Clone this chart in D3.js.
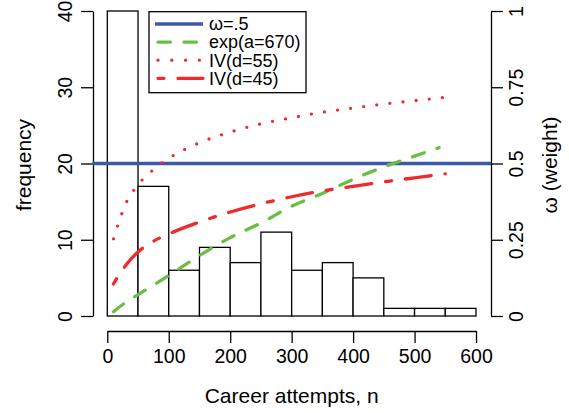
<!DOCTYPE html>
<html>
<head>
<meta charset="utf-8">
<script src="https://cdn.jsdelivr.net/npm/d3@7"></script>
<style>
  body { margin: 0; background: #fff; }
  svg { font-family: "Liberation Sans", Arial, Helvetica, sans-serif; }
  .axis path, .axis line { stroke: #000; stroke-width: 1.3px; }
  .axis text { font-size: 19.5px; fill: #000; }
  .bar { fill: #fff; stroke: #000; stroke-width: 1.3px; }
  .title { font-size: 21px; fill: #000; }
  .legText { font-size: 18px; fill: #000; }
</style>
</head>
<body>
<script>
//histogram of career attempts (bins of 50)
var binStarts = [0, 50, 100, 150, 200, 250, 300, 350, 400, 450, 500, 550];
var binEnds = [50, 100, 150, 200, 250, 300, 350, 400, 450, 500, 550, 600];
var counts = [40, 17, 6, 9, 7, 11, 6, 7, 5, 1, 1, 1];

//weight curves (n, omega)
var expN = [10, 30, 50, 100, 150, 200, 250, 300, 350, 400, 450, 500, 540];
var expW = [0.014, 0.045, 0.070, 0.133, 0.198, 0.257, 0.305, 0.360, 0.402, 0.448, 0.489, 0.524, 0.552];
var iv55N = [10, 20, 30, 50, 75, 100, 150, 200, 250, 300, 350, 400, 450, 500, 550];
var iv55W = [0.253, 0.315, 0.368, 0.430, 0.480, 0.517, 0.568, 0.603, 0.630, 0.650, 0.668, 0.682, 0.695, 0.706, 0.717];
var iv45N = [10, 20, 30, 50, 75, 100, 150, 200, 250, 300, 350, 400, 450, 500, 550];
var iv45W = [0.105, 0.138, 0.166, 0.210, 0.245, 0.269, 0.308, 0.341, 0.368, 0.391, 0.410, 0.425, 0.440, 0.453, 0.466];
var constW = 0.5;

//ticks
var xTicks = [0, 100, 200, 300, 400, 500, 600];
var freqTicks = [0, 10, 20, 30, 40];
var wTicks = [0, 0.25, 0.5, 0.75, 1];
var wTickLabels = ["0", "0.25", "0.5", "0.75", "1"];
var legendLabels = ["\u03c9=.5", "exp(a=670)", "IV(d=55)", "IV(d=45)"];

var width = 569, height = 413;
var blue = "#3c59a7", green = "#6cbd45", red = "#ee2a2b";

var svg = d3.select("body").append("svg")
  .attr("width", width)
  .attr("height", height);

//scales
var x = d3.scaleLinear().domain([0, 600]).range([107.3, 476]);
var yF = d3.scaleLinear().domain([0, 40]).range([316, 11]);
var yW = d3.scaleLinear().domain([0, 1]).range([316, 11]);
var plotLeft = 92.5, plotRight = 491;

//histogram bars
svg.append("g").selectAll(".bar")
  .data(counts)
  .enter()
  .append("rect")
  .attr("class", "bar")
  .attr("x", function(d, i){ return x(binStarts[i]); })
  .attr("width", function(d, i){ return x(binEnds[i]) - x(binStarts[i]); })
  .attr("y", function(d){ return yF(d); })
  .attr("height", function(d){ return yF(0) - yF(d); });

//axes
var xAxis = svg.append("g")
  .attr("class", "axis")
  .attr("transform", "translate(0,331)")
  .call(d3.axisBottom(x).tickValues(xTicks).tickSize(12).tickSizeOuter(0).tickFormat(d3.format("d")));
xAxis.selectAll("text").attr("y", 25).attr("dy", "0.35em");

var leftAxis = svg.append("g")
  .attr("class", "axis")
  .attr("transform", "translate(93,0)")
  .call(d3.axisLeft(yF).tickValues(freqTicks).tickSize(12).tickSizeOuter(0));
leftAxis.selectAll("text")
  .attr("x", null).attr("dy", "0.35em")
  .attr("text-anchor", "middle")
  .attr("transform", "translate(-28,0) rotate(-90)");

var rightAxis = svg.append("g")
  .attr("class", "axis")
  .attr("transform", "translate(491,0)")
  .call(d3.axisRight(yW).tickValues(wTicks).tickSize(12).tickSizeOuter(0)
    .tickFormat(function(d, i){ return wTickLabels[i]; }));
rightAxis.selectAll("text")
  .attr("x", null).attr("dy", "0.35em")
  .attr("text-anchor", "middle")
  .attr("transform", "translate(25,0) rotate(-90)");

//axis titles
svg.append("text").attr("class", "title")
  .attr("x", (x(0) + x(600)) / 2).attr("y", 403)
  .attr("text-anchor", "middle")
  .text("Career attempts, n");
svg.append("text").attr("class", "title")
  .attr("text-anchor", "middle").attr("dy", "0.35em")
  .attr("transform", "translate(24,165) rotate(-90)")
  .text("frequency");
svg.append("text").attr("class", "title")
  .attr("text-anchor", "middle").attr("dy", "0.35em")
  .attr("transform", "translate(550,165) rotate(-90)")
  .text("\u03c9 (weight)");

//constant weight line
svg.append("line")
  .attr("x1", plotLeft).attr("x2", plotRight)
  .attr("y1", yW(constW)).attr("y2", yW(constW))
  .style("stroke", blue).style("stroke-width", 3.3);

//curves
var line = d3.line()
  .x(function(d){ return x(d[0]); })
  .y(function(d){ return yW(d[1]); })
  .curve(d3.curveMonotoneX);

var curves = [
  {n: expN, w: expW, color: green, dash: "12.5 13.5"},
  {n: iv55N, w: iv55W, color: red, dash: "0 13.2"},
  {n: iv45N, w: iv45W, color: red, dash: "6 14 26 14"}
];
curves.forEach(function(c){
  svg.append("path")
    .datum(d3.zip(c.n, c.w))
    .attr("d", line)
    .style("fill", "none")
    .style("stroke", c.color)
    .style("stroke-width", 3.3)
    .style("stroke-linecap", "round")
    .style("stroke-dasharray", c.dash);
});

//legend
var legend = svg.append("g");
legend.append("rect")
  .attr("x", 149).attr("y", 11.7)
  .attr("width", 157).attr("height", 81)
  .style("fill", "#fff").style("stroke", "#000").style("stroke-width", 1.3);

var legStyles = [
  {color: blue, dash: null, cap: "butt"},
  {color: green, dash: "12.5 13.5", cap: "round"},
  {color: red, dash: "0 13.8", cap: "round"},
  {color: red, dash: "6 14 26 14", cap: "round"}
];
legendLabels.forEach(function(lab, i){
  var yy = 24 + i * 18.1;
  legend.append("line")
    .attr("x1", i == 0 ? 155 : 158).attr("x2", i == 0 ? 203 : 203)
    .attr("y1", yy).attr("y2", yy)
    .style("stroke", legStyles[i].color)
    .style("stroke-width", 3.3)
    .style("stroke-linecap", legStyles[i].cap)
    .style("stroke-dasharray", legStyles[i].dash);
  legend.append("text")
    .attr("class", "legText")
    .attr("x", 209).attr("y", yy).attr("dy", "0.35em")
    .text(lab);
});
</script>
</body>
</html>
